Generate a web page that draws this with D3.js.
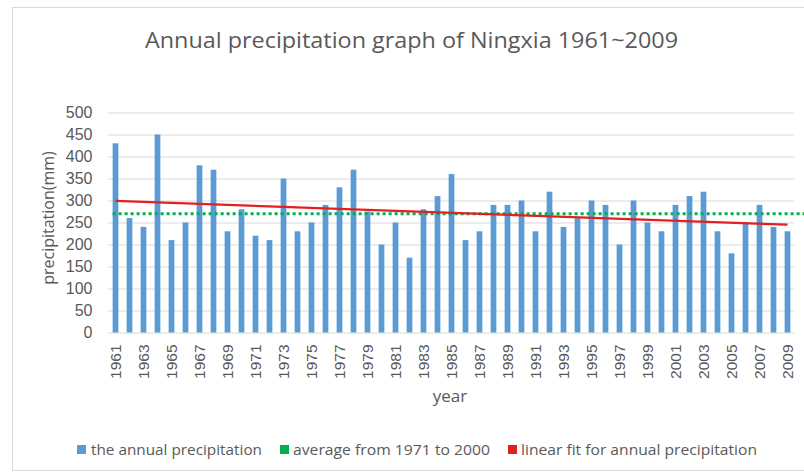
<!DOCTYPE html>
<html>
<head>
<meta charset="utf-8">
<script src="https://cdn.jsdelivr.net/npm/d3@7/dist/d3.min.js"></script>
<style>
  html, body { margin: 0; padding: 0; background: #ffffff; }
  svg { display: block; font-family: "Open Sans", "Noto Sans", sans-serif; }
</style>
</head>
<body>
<svg id="chart" width="804" height="474"></svg>
<script>
// ---- data ----
const years = d3.range(1961, 2010);
const precipitation = [
  430, 260, 240, 450, 210, 250, 380, 370, 230, 280,
  220, 210, 350, 230, 250, 290, 330, 370, 275, 200,
  250, 170, 280, 310, 360, 210, 230, 290, 290, 300,
  230, 320, 240, 260, 300, 290, 200, 300, 250, 230,
  290, 310, 320, 230, 180, 250, 290, 240, 230
];
const yTicks = [0, 50, 100, 150, 200, 250, 300, 350, 400, 450, 500];
const xTickLabels = years.filter((y, i) => i % 2 === 0);
const averageValue = 270;           // average from 1971 to 2000
const fitYears = [1961, 2009];
const fitValues = [299, 245];       // linear fit end points
const titleText = "Annual precipitation graph of Ningxia 1961~2009";
const yTitle = "precipitation(mm)";
const xTitle = "year";
const legendLabels = ["the annual precipitation", "average from 1971 to 2000", "linear fit for annual precipitation"];
const colors = { bar: "#5b9bd5", avg: "#00b050", fit: "#e3201f", grid: "#d9d9d9", text: "#595959" };

// ---- layout ----
const svg = d3.select("#chart");
const margin = { left: 108.5, right: 794.5, top: 112.5, bottom: 332.5 };

svg.append("rect").attr("x", 12.5).attr("y", 7.5).attr("width", 800).attr("height", 463)
  .attr("fill", "#fff").attr("stroke", "#d9d9d9").attr("stroke-width", 1);

const x = d3.scaleBand().domain(years).range([margin.left, margin.right]).paddingInner(0.59).paddingOuter(0.295);
const y = d3.scaleLinear().domain([0, 500]).range([margin.bottom, margin.top]);

// gridlines
const yAxis = d3.axisLeft(y).tickValues(yTicks).tickSize(-(margin.right - margin.left)).tickPadding(16);
const gY = svg.append("g").attr("transform", `translate(${margin.left},0)`).call(yAxis);
gY.select(".domain").remove();
gY.selectAll(".tick line").attr("stroke", colors.grid).attr("stroke-width", 1);
gY.selectAll(".tick text").attr("fill", colors.text).attr("font-size", 16);

// bars
svg.append("g").selectAll("rect").data(years).join("rect")
  .attr("x", d => x(d))
  .attr("width", x.bandwidth())
  .attr("y", (d, i) => y(precipitation[i]))
  .attr("height", (d, i) => y(0) - y(precipitation[i]))
  .attr("fill", colors.bar);

// x axis labels
const xAxis = d3.axisBottom(x).tickValues(xTickLabels).tickSize(0).tickPadding(0);
const gX = svg.append("g").attr("transform", `translate(0,${margin.bottom})`).call(xAxis);
gX.select(".domain").remove();
gX.selectAll(".tick text")
  .attr("fill", colors.text).attr("font-size", 15.5)
  .attr("transform", "rotate(-90)")
  .attr("text-anchor", "end")
  .attr("x", -12).attr("y", 0).attr("dy", "0.36em");

// average dotted line
svg.append("line")
  .attr("x1", x(years[0])).attr("x2", 804)
  .attr("y1", y(averageValue)).attr("y2", y(averageValue))
  .attr("stroke", colors.avg).attr("stroke-width", 3)
  .attr("stroke-dasharray", "3,3");

// linear fit
const line = d3.line().x(d => x(d[0]) + x.bandwidth() / 2).y(d => y(d[1]));
svg.append("path").datum(fitYears.map((yr, i) => [yr, fitValues[i]]))
  .attr("d", line).attr("fill", "none").attr("stroke", colors.fit).attr("stroke-width", 2.2);

// title
svg.append("text").attr("x", 145).attr("y", 48).attr("fill", colors.text)
  .attr("font-size", 22).attr("textLength", 533).attr("lengthAdjust", "spacingAndGlyphs")
  .text(titleText);

// axis titles
svg.append("text").attr("transform", "translate(54,218) rotate(-90)").attr("text-anchor", "middle")
  .attr("fill", colors.text).attr("font-size", 16).text(yTitle);
svg.append("text").attr("x", 450).attr("y", 402).attr("text-anchor", "middle")
  .attr("fill", colors.text).attr("font-size", 17).text(xTitle);

// legend
const legendItems = [
  { sq: 77, tx: 91, end: 262, color: colors.bar },
  { sq: 280, tx: 293, end: 490, color: colors.avg },
  { sq: 508, tx: 521, end: 757, color: colors.fit }
];
const lg = svg.append("g");
legendItems.forEach((it, i) => {
  lg.append("rect").attr("x", it.sq).attr("y", 445).attr("width", 9).attr("height", 9).attr("fill", it.color);
  lg.append("text").attr("x", it.tx).attr("y", 455).attr("fill", colors.text).attr("font-size", 15)
    .attr("textLength", it.end - it.tx).attr("lengthAdjust", "spacingAndGlyphs").text(legendLabels[i]);
});
</script>
</body>
</html>
